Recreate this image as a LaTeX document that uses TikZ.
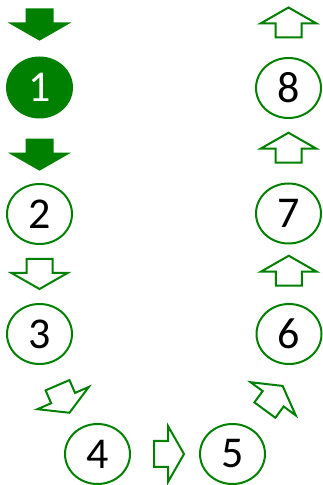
\documentclass[tikz,border=0pt]{standalone}
\usepackage{fontspec}
\setmainfont{Carlito}
\usetikzlibrary{shapes.geometric,calc}
\definecolor{stepgreen}{RGB}{0,128,0}

\begin{document}
\begin{tikzpicture}[
    x=1pt, y=1pt,
    every node/.style={ellipse, draw=stepgreen, line width=2pt, minimum width=65pt,
        minimum height=60pt, inner sep=0pt, font=\fontsize{44}{44}\selectfont},
    filledarrow/.style={draw=stepgreen, fill=stepgreen, line width=2pt},
    hollowarrow/.style={draw=stepgreen, fill=white, line width=2pt},
    blockarrow/.pic={\path[pic actions] (-15,-13) -- (-1,-13) -- (-1,-28) -- (15,0)
        -- (-1,28) -- (-1,13) -- (-15,13) -- cycle;}
]
\useasboundingbox (0,0) rectangle (322,485);
\node[fill=stepgreen, text=white] (n1) at (39.5,397.5) {1};
\node (n2) at (39.5,271) {2};
\node (n3) at (39.5,151) {3};
\node (n4) at (97.5,31) {4};
\node (n5) at (232.5,31) {5};
\node (n6) at (289,151) {6};
\node (n7) at (288.5,271.5) {7};
\node (n8) at (288.5,397) {8};
\pic[filledarrow, rotate=-90] at ($(n1)+(0,63)$) {blockarrow};
\pic[filledarrow, rotate=-90] at ($(n1)!0.53!(n2)$) {blockarrow};
\pic[hollowarrow, rotate=-90] at ($(n2)!0.5!(n3)$) {blockarrow};
\pic[hollowarrow, rotate=-66.6] at ($(n3)!0.5!(n4)+(-5,-5)$) {blockarrow};
\pic[hollowarrow] at ($(n4)!0.5!(n5)+(4,0)$) {blockarrow};
\pic[hollowarrow, rotate=53.7] at ($(n5)!0.5!(n6)+(13,-4)$) {blockarrow};
\pic[hollowarrow, rotate=90] at ($(n6)!0.5!(n7)+(0,3)$) {blockarrow};
\pic[hollowarrow, rotate=90] at ($(n7)!0.5!(n8)+(0,3)$) {blockarrow};
\pic[hollowarrow, rotate=90] at ($(n8)+(0,65.5)$) {blockarrow};
\end{tikzpicture}
\end{document}
